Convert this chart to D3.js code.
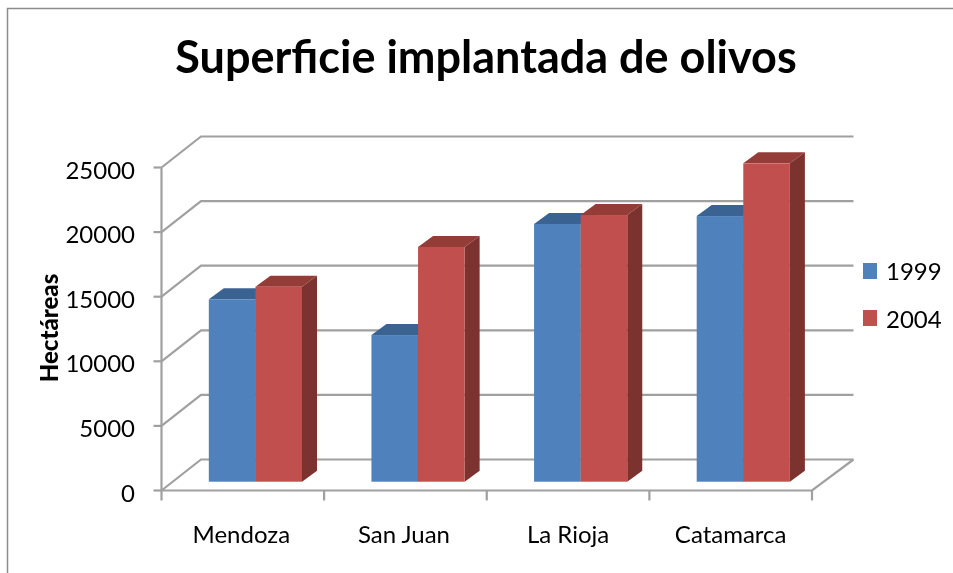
<!DOCTYPE html>
<html><head><meta charset="utf-8">
<script src="https://cdn.jsdelivr.net/npm/d3@7"></script>
<style>html,body{margin:0;padding:0;background:#fff}svg{display:block}text{font-family:Lato,"Open Sans",sans-serif;fill:#000}</style>
</head><body><svg id="c" width="953" height="573"></svg>
<script>
const categories = ["Mendoza","San Juan","La Rioja","Catamarca"];
const seriesNames = ["1999","2004"];
const values1999 = [14120,11350,19950,20560];
const values2004 = [15090,18170,20640,24640];
const yTicks = [0,5000,10000,15000,20000,25000];
const colors = {"1999":"#4f81bd","2004":"#c0504d"};
const topColors = {"1999":"#3b6392","2004":"#943c39"};
const sideColors = {"1999":"#2f5077","2004":"#7b302e"};

const svg = d3.select("#c");
const defs = svg.append("defs");
defs.append("filter").attr("id","soft").append("feGaussianBlur").attr("stdDeviation",0.6);
defs.append("filter").attr("id","softText").append("feGaussianBlur").attr("stdDeviation",0.35);

const y = d3.scaleLinear().domain([0,25000]).range([490.5,167.5]);
const x = d3.scaleBand().domain(categories).range([161.5,812]).paddingInner(0.427).paddingOuter(0.2135);
const xs = d3.scaleBand().domain(seriesNames).range([0,x.bandwidth()]);
const wall = {dx:39.5,dy:-31};
const bar = {dx:12.6,dy:-8.8,depthX:15,depthY:-11};

// chart frame
svg.append("path").attr("d","M7.5,573V8.5H953").attr("fill","none").attr("stroke","#8c8c8c").attr("stroke-width",1.5);

const g = svg.append("g").attr("filter","url(#soft)");
const grid = "#a0a0a0";
const x0 = x.range()[0], x1 = x.range()[1];

yTicks.forEach(t=>{
  g.append("path").attr("fill","none").attr("stroke",grid).attr("stroke-width",2.2)
   .attr("d",`M${x0},${y(t)}L${x0+wall.dx},${y(t)+wall.dy}H${x1+wall.dx+2}`);
  g.append("line").attr("x1",x0-8).attr("x2",x0).attr("y1",y(t)).attr("y2",y(t)).attr("stroke",grid).attr("stroke-width",2.2);
});
// floor front edge & right edge
g.append("path").attr("fill","none").attr("stroke",grid).attr("stroke-width",2.2)
 .attr("d",`M${x0},${y(25000)}V${y(0)}H${x1}L${x1+wall.dx+2},${y(0)+wall.dy}`);
// category ticks
const step = x.step();
d3.range(categories.length+1).forEach(i=>{
  g.append("line").attr("x1",x0+i*step).attr("x2",x0+i*step).attr("y1",y(0)).attr("y2",y(0)+10)
   .attr("stroke",grid).attr("stroke-width",2.2);
});

// bars
const rows = [values1999,values2004];
categories.forEach((c,ci)=>{
  seriesNames.forEach((s,si)=>{
    const v = rows[si][ci];
    const l = x(c)+xs(s)+bar.dx, w = xs.bandwidth();
    const b = y(0)+bar.dy, t = b-(y(0)-y(v));
    const r = l+w, dx = bar.depthX, dy = bar.depthY;
    g.append("path").attr("fill",sideColors[s]).attr("d",`M${r},${t}L${r+dx},${t+dy}V${b+dy}L${r},${b}Z`);
    g.append("path").attr("fill",topColors[s]).attr("d",`M${l},${t}L${l+dx},${t+dy}H${r+dx}L${r},${t}Z`);
    g.append("rect").attr("x",l).attr("y",t).attr("width",w).attr("height",b-t).attr("fill",colors[s]);
  });
});

const labels = svg.append("g").attr("filter","url(#softText)");
// y tick labels
labels.append("g").selectAll("text").data(yTicks).join("text")
  .attr("x",135).attr("y",d=>y(d)+11).attr("text-anchor","end")
  .attr("font-size",24).text(d=>d);
// x labels
labels.append("g").selectAll("text").data(categories).join("text")
  .attr("x",d=>x(d)+x.bandwidth()/2-(d==="Mendoza"||d==="San Juan"?1.5:0)).attr("y",543).attr("text-anchor","middle")
  .attr("font-size",24).text(d=>d);
// title
labels.append("text").attr("x",486).attr("y",73).attr("text-anchor","middle")
  .attr("font-size",45).attr("font-weight",700).text("Superficie implantada de olivos");
// axis title
labels.append("text").attr("transform","translate(58,328) rotate(-90)").attr("text-anchor","middle")
  .attr("font-size",24).attr("font-weight",900).text("Hectáreas");
// legend
const legY = d3.scaleOrdinal().domain(seriesNames).range([271,318]);
seriesNames.forEach((s,i)=>{
  svg.append("rect").attr("x",863).attr("y",legY(s)-8).attr("width",14).attr("height",16).attr("fill",colors[s]);
  labels.append("text").attr("x",886).attr("y",legY(s)+9+i).attr("font-size",24).text(s);
});
</script></body></html>
